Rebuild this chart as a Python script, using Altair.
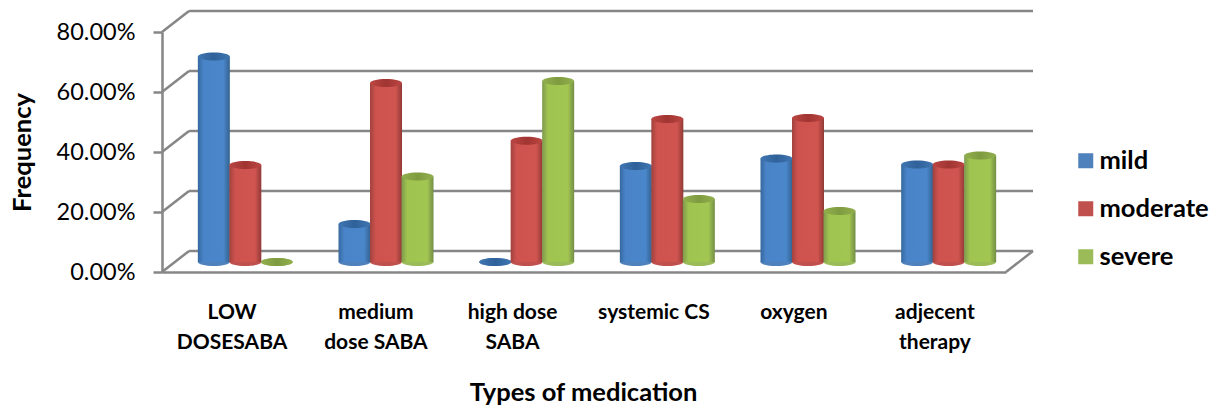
import altair as alt
import pandas as pd

categories = ["LOW\nDOSESABA", "medium\ndose SABA", "high dose\nSABA", "systemic CS", "oxygen", "adjecent\ntherapy"]
label_pos = [0.498, 1.521, 2.492, 3.497, 4.492, 5.495]
series = ["mild", "moderate", "severe"]
mild = [68.5, 12.7, 0, 32, 34.5, 32.5]
moderate = [32.3, 59.7, 40.4, 47.7, 48, 32.5]
severe = [0, 28.5, 60.3, 21, 17, 35.5]
ticks = [0, 20, 40, 60, 80]
legend_colors = ["#4F81BD", "#C0504D", "#9BBB59"]
body_stops = [
    ["#36689F", "#4A84C8", "#4A86CA", "#33628F"],
    ["#A0423E", "#CE524E", "#D0544F", "#913A36"],
    ["#7E9A4C", "#A0C450", "#A2C652", "#738E45"],
]
top_stops = [
    ["#4076B2", "#2F6199", "#4076B2"],
    ["#BC4642", "#A03532", "#BC4642"],
    ["#92B04E", "#7F9B40", "#92B04E"],
]

FONT = "Lato"
GREY = "#868686"
W, H = 844, 240
DX, DY = 27, 21     # depth of the back wall in pixels
DY_PCT = 7          # the same depth in percent units
ELLIPSE = "M-1,0A1,0.25,0,1,1,1,0A1,0.25,0,1,1,-1,0Z"
BAR_W = 32
SIZE = BAR_W ** 2
SLOT = 31.5 / (W / 6)

rows = []
for s_i, (name, vals) in enumerate(zip(series, [mild, moderate, severe])):
    for c_i, v in enumerate(vals):
        rows.append({"series": name, "s_i": s_i, "cat": c_i, "pos": c_i + 0.5 + (s_i - 1) * SLOT, "value": v})
df = pd.DataFrame(rows)

x_scale = alt.Scale(domain=[0, 6], nice=False, zero=False, padding=0)
y_scale = alt.Scale(domain=[0, 80], nice=False)
x_enc = alt.X("pos:Q", scale=x_scale, axis=None)
y_enc = alt.Y("value:Q", scale=y_scale, stack=None, axis=None)


def grad(stops):
    n = len(stops) - 1
    offs = [0, 0.18, 0.8, 1] if n == 3 else [0, 0.5, 1]
    return alt.Gradient(gradient="linear", x1=0, x2=1, y1=0, y2=0,
                        stops=[alt.GradientStop(offset=o, color=c) for o, c in zip(offs, stops)])


grid = pd.DataFrame({"tick": ticks, "back": [t + DY_PCT for t in ticks]})
axes = alt.Chart(grid).mark_rule(opacity=0).encode(
    x=alt.X("tick:Q", scale=x_scale, axis=alt.Axis(
        title="Types of medication", labels=False, ticks=False, grid=False, domainColor=GREY, domainWidth=2.5,
        titleFont=FONT, titleFontSize=25.5, titleFontWeight="bold", titleColor="black", titleX=421, titleY=108)),
    y=alt.Y("tick:Q", scale=y_scale, axis=alt.Axis(
        title="Frequency", values=ticks, labelExpr="format(datum.value/100, '.2%')", grid=False,
        domainColor=GREY, domainWidth=2.5, tickColor=GREY, tickWidth=2.5, tickSize=9,
        labelFont=FONT, labelFontSize=23.5, labelColor="black", labelPadding=18,
        titleFont=FONT, titleFontSize=25.5, titleFontWeight="bold", titleColor="black", titleX=-127, titleY=120)),
)
back = alt.Chart(grid).mark_rule(color=GREY, strokeWidth=2.5, yOffset=-DY).encode(
    x=alt.value(DX), x2=alt.value(W + DX), y=alt.Y("tick:Q", scale=y_scale, axis=None))
diag = alt.Chart(grid).mark_rule(color=GREY, strokeWidth=2.5).encode(
    x=alt.value(0), x2=alt.value(DX), y=alt.Y("tick:Q", scale=y_scale, axis=None), y2="back:Q")
floor_r = alt.Chart(grid[grid.tick == 0]).mark_rule(color=GREY, strokeWidth=2.5).encode(
    x=alt.value(W), x2=alt.value(W + DX), y=alt.Y("tick:Q", scale=y_scale, axis=None), y2="back:Q")

layers = [axes, back, diag, floor_r]
OFFX, OFFY = 13, -10
for s_i, name in enumerate(series):
    d = df[df.s_i == s_i]
    base = alt.Chart(d).mark_point(shape=ELLIPSE, filled=True, opacity=1, size=SIZE, xOffset=OFFX, yOffset=OFFY).encode(
        x=x_enc, y=alt.Y("zero:Q", scale=y_scale, axis=None),
        color=alt.Color("series:N", scale=alt.Scale(domain=series, range=legend_colors), legend=alt.Legend(
            title=None, orient="none", legendX=911, legendY=116, symbolType="square", symbolSize=225,
            symbolOpacity=1, labelFont=FONT, labelFontSize=25.5, labelFontWeight="bold", labelColor="black",
            rowPadding=21, labelOffset=1, labelLimit=200)),
    ).transform_calculate(zero="0")
    body = alt.Chart(d[d.value > 0]).mark_bar(width=BAR_W, fill=grad(body_stops[s_i]), xOffset=OFFX, yOffset=OFFY, y2Offset=OFFY).encode(
        x=x_enc, y=y_enc, y2=alt.Y2(datum=0))
    top = alt.Chart(d).mark_point(shape=ELLIPSE, filled=True, opacity=1, size=SIZE, fill=grad(top_stops[s_i]), xOffset=OFFX, yOffset=OFFY).encode(
        x=x_enc, y=y_enc)
    layers += [base, body, top]

labels = alt.Chart(pd.DataFrame({"label": categories, "lx": label_pos})).mark_text(
    font=FONT, fontSize=21, fontWeight="bold", color="black", lineBreak="\n", lineHeight=30, baseline="top", align="center"
).encode(x=alt.X("lx:Q", scale=x_scale, axis=None), y=alt.value(270), text="label:N")
layers.append(labels)

chart = alt.layer(*layers).resolve_scale(color="shared").resolve_axis(x="independent", y="independent").properties(
    width=W, height=H,
    padding={"left": 154, "top": 24, "right": 208, "bottom": 137},
    autosize=alt.AutoSizeParams(type="none"),
    background="white",
).configure_view(stroke=None)

chart.save("out.html", embed_options={"renderer": "svg", "actions": False})
